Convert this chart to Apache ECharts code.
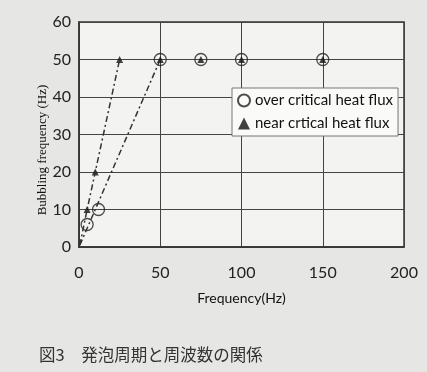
<!DOCTYPE html>
<html><head><meta charset="utf-8">
<script src="https://cdn.jsdelivr.net/npm/echarts@6/dist/echarts.min.js"></script>
<style>html,body{margin:0;padding:0;background:#e6e6e4;}#c{width:427px;height:372px;}</style>
</head><body><div id="c"></div>
<script>
const overX = [5, 12, 50, 75, 100, 150];
const overY = [6, 10, 50, 50, 50, 50];
const nearX = [5, 10, 25, 50, 75, 100, 150];
const nearY = [10, 20, 50, 50, 50, 50, 50];
const overTrendX = [0.5, 50];
const overTrendY = [0.5, 50];
const nearTrendX = [0.5, 5, 10, 25];
const nearTrendY = [0.5, 10, 20, 50];
const xTicks = [0, 50, 100, 150, 200];
const yTicks = [0, 10, 20, 30, 40, 50, 60];
const zip = (a, b) => a.map((v, i) => [v, b[i]]);

const chart = echarts.init(document.getElementById('c'));
chart.setOption({
  backgroundColor: '#e6e6e4',
  animation: false,
  title: {
    text: '図3　発泡周期と周波数の関係',
    left: 34, top: 341,
    textStyle: {fontFamily: 'Noto Sans CJK JP', fontSize: 16.5, fontWeight: 'normal', color: '#333'}
  },
  graphic: [{
    type: 'text', x: 43, y: 150, rotation: Math.PI / 2,
    style: {text: 'Bubbling frequency (Hz)', fontFamily: 'Liberation Serif', fontSize: 13, fill: '#111',
            align: 'center', verticalAlign: 'middle'}
  }],
  grid: {left: 79, top: 22, right: 23, bottom: 125, show: true, backgroundColor: '#f3f3f1', borderColor: '#333', borderWidth: 1.5},
  legend: {
    data: ['over critical heat flux', 'near crtical heat flux'],
    orient: 'vertical', left: 232, top: 88,
    backgroundColor: '#fafaf8', borderColor: '#777', borderWidth: 1,
    padding: [5, 5, 5, 5], itemGap: 8, itemWidth: 12, itemHeight: 12,
    textStyle: {fontFamily: 'Lato', fontSize: 15, color: '#111'}
  },
  xAxis: {
    type: 'value', min: 0, max: 200, interval: 50,
    name: 'Frequency(Hz)', nameLocation: 'middle', nameGap: 44,
    nameTextStyle: {fontFamily: 'Lato', fontSize: 14, color: '#111'},
    axisLine: {show: true, lineStyle: {color: '#333', width: 1.5}},
    axisTick: {show: false},
    axisLabel: {fontFamily: 'Lato', fontSize: 16, color: '#222', margin: 18, formatter: v => xTicks.includes(v) ? String(v) : ''},
    splitLine: {show: true, lineStyle: {color: '#444', width: 1}}
  },
  yAxis: {
    type: 'value', min: 0, max: 60, interval: 10,
    axisLine: {show: true, lineStyle: {color: '#333', width: 1.5}},
    axisTick: {show: false},
    axisLabel: {fontFamily: 'Lato', fontSize: 16, color: '#222', margin: 8, formatter: v => yTicks.includes(v) ? String(v) : ''},
    splitLine: {show: true, lineStyle: {color: '#444', width: 1}}
  },
  series: [
    {name: 'overTrend', type: 'line', data: zip(overTrendX, overTrendY), symbol: 'none',
     lineStyle: {color: '#333', width: 1.5, type: [6, 3, 2, 3]}, silent: true},
    {name: 'nearTrend', type: 'line', data: zip(nearTrendX, nearTrendY), symbol: 'none',
     lineStyle: {color: '#333', width: 1.5, type: [6, 3, 2, 3]}, silent: true},
    {name: 'over critical heat flux', type: 'scatter', data: zip(overX, overY), symbol: 'circle', symbolSize: 12,
     itemStyle: {color: 'rgba(0,0,0,0)', borderColor: '#222', borderWidth: 1.3}},
    {name: 'near crtical heat flux', type: 'scatter', data: zip(nearX, nearY), symbol: 'triangle', symbolSize: 7,
     itemStyle: {color: '#111'}}
  ]
});
</script></body></html>
